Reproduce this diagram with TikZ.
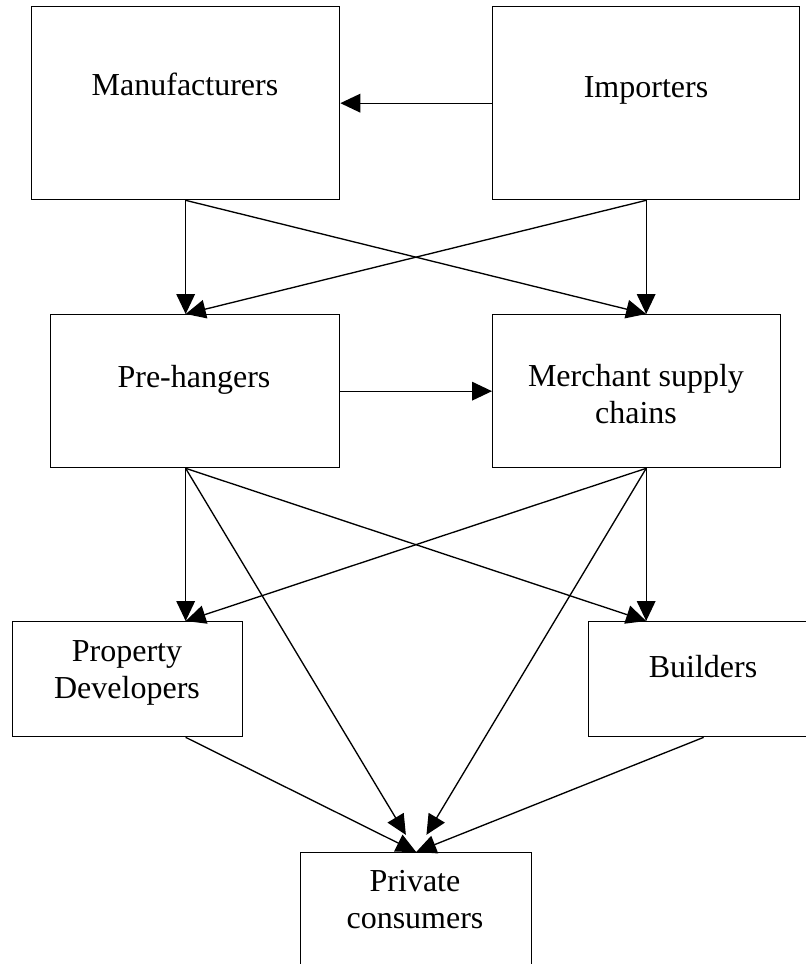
\documentclass[tikz,border=0pt]{standalone}
\usepackage{fontspec}
\setmainfont{Liberation Serif}
\usetikzlibrary{arrows.meta}

\tikzset{
  box/.style={draw, line width=1pt, anchor=north west, inner sep=0pt},
  lbl/.style={anchor=base, align=center, inner sep=0pt,
    font=\fontsize{24}{27.75}\selectfont},
  flow/.style={-{Triangle[length=15pt,width=14pt]}, line width=1pt},
}

\begin{document}
\begin{tikzpicture}[x=0.75pt,y=-0.75pt]
  \clip (0,0) rectangle (806,964);
  % boxes
  \node[box, minimum width=231pt, minimum height=144.75pt] (mfr) at (31,6) {};
  \node[box, minimum width=230.25pt, minimum height=144.75pt] (imp) at (492,6) {};
  \node[box, minimum width=216.75pt, minimum height=114.75pt] (pre) at (50,314) {};
  \node[box, minimum width=216pt, minimum height=114.75pt] (msc) at (492,314) {};
  \node[box, minimum width=172.5pt, minimum height=86.25pt] (dev) at (12,621) {};
  \node[box, minimum width=172.5pt, minimum height=86.25pt] (bld) at (588,621) {};
  \node[box, minimum width=173.25pt, minimum height=86.25pt] (priv) at (300,852) {};

  % texts (base = last line)
  \node[lbl] (mfrtxt) at (185,95) {Manufacturers};
  \node[lbl] (imptxt) at (646,97) {Importers};
  \node[lbl] (pretxt) at (194,387) {Pre-hangers};
  \node[lbl] (msctxt) at (636,423) {Merchant supply\\chains};
  \node[lbl] (devtxt) at (127,698) {Property\\Developers};
  \node[lbl] (bldtxt) at (703,677) {Builders};
  \node[lbl] (privtxt) at (415,928) {Private\\consumers};

  % top row
  \draw[flow] (imp.west) -- (mfr.east);
  \draw[flow] (mfr.south) -- (mfr.south |- pre.north);
  \draw[flow] (mfr.south) -- (imp.south |- msc.north);
  \draw[flow] (imp.south) -- (imp.south |- msc.north);
  \draw[flow] (imp.south) -- (mfr.south |- pre.north);
  \draw[flow] (pre.east) -- (msc.west);

  % middle row
  \draw[flow] (mfr.south |- pre.south) -- (mfr.south |- dev.north);
  \draw[flow] (mfr.south |- pre.south) -- (imp.south |- bld.north);
  \draw[flow, shorten >=15pt] (mfr.south |- pre.south) -- (priv.north);
  \draw[flow] (imp.south |- msc.south) -- (imp.south |- bld.north);
  \draw[flow] (imp.south |- msc.south) -- (mfr.south |- dev.north);
  \draw[flow, shorten >=15pt] (imp.south |- msc.south) -- (priv.north);

  % bottom row
  \draw[flow] (mfr.south |- dev.south) -- (priv.north);
  \draw[flow] (bld.south) -- (priv.north);
\end{tikzpicture}
\end{document}
